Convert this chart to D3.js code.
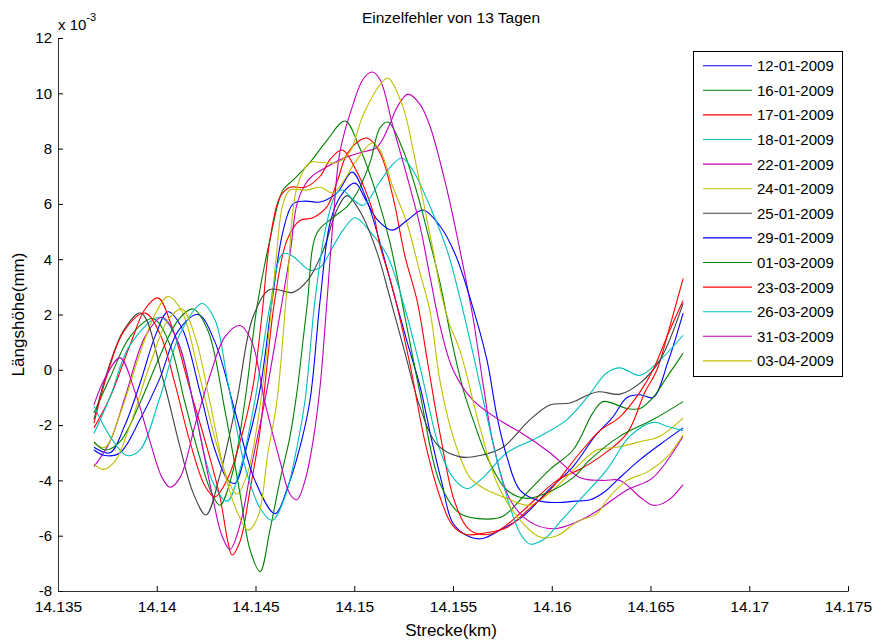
<!DOCTYPE html>
<html><head><meta charset="utf-8">
<script src="https://cdn.jsdelivr.net/npm/d3@7"></script>
<style>
body{margin:0;background:#fff;}
svg{display:block;font-family:"Liberation Sans",Arial,sans-serif;}
</style></head>
<body><svg id="c" width="873" height="642"></svg>
<script>
const title = "Einzelfehler von 13 Tagen";
const xLabel = "Strecke(km)";
const yLabel = "Längshöhe(mm)";
const xTicks = [14.135,14.14,14.145,14.15,14.155,14.16,14.165,14.17,14.175];
const yTicks = [-8,-6,-4,-2,0,2,4,6,8,10,12];
const dates = ["12-01-2009","16-01-2009","17-01-2009","18-01-2009","22-01-2009","24-01-2009","25-01-2009","29-01-2009","01-03-2009","23-03-2009","26-03-2009","31-03-2009","03-04-2009"];
const colors = ["#0000ff","#008000","#ff0000","#00bfbf","#bf00bf","#bfbf00","#404040","#0000ff","#008000","#ff0000","#00bfbf","#bf00bf","#bfbf00"];

// values in units of 1e-3 mm, positions in km
const s1201 = [[14.13682,-2.8],[14.13763,-3.0],[14.13839,-2.0],[14.13915,-0.5],[14.13991,1.2],[14.14057,2.1],[14.14128,1.5],[14.14219,-0.8],[14.14295,-2.9],[14.14361,-4.0],[14.14396,-4.1],[14.14462,-2.6],[14.14523,-0.7],[14.14584,2.5],[14.14639,5.0],[14.14690,6.0],[14.14751,6.1],[14.14827,6.07],[14.14913,6.4],[14.14989,7.15],[14.15060,6.2],[14.15130,4.6],[14.15206,2.6],[14.15272,0.9],[14.15333,-0.6],[14.15394,-2.6],[14.15444,-4.1],[14.15500,-5.55],[14.15586,-6.05],[14.15652,-6.1],[14.15738,-5.8],[14.15854,-5.3],[14.15991,-4.3],[14.16108,-3.5],[14.16219,-2.4],[14.16310,-1.7],[14.16381,-1.0],[14.16447,-0.9],[14.16513,-1.0],[14.16589,0.3],[14.16665,2.05]];
const s1601 = [[14.13682,-1.56],[14.13763,-0.3],[14.13865,1.2],[14.13981,1.85],[14.14067,0.9],[14.14143,-1.2],[14.14219,-3.2],[14.14280,-4.5],[14.14320,-4.9],[14.14381,-3.8],[14.14447,-1.1],[14.14508,2.3],[14.14573,4.7],[14.14639,6.5],[14.14690,6.86],[14.14776,7.5],[14.14862,8.3],[14.14953,9.0],[14.15029,8.0],[14.15115,6.3],[14.15181,4.6],[14.15257,1.9],[14.15333,-0.85],[14.15434,-4.1],[14.15535,-5.2],[14.15672,-5.4],[14.15753,-5.3],[14.15854,-4.6],[14.15991,-3.6],[14.16108,-2.9],[14.16209,-1.55],[14.16260,-1.15],[14.16381,-1.4],[14.16447,-1.4],[14.16513,-1.0],[14.16589,-0.2],[14.16665,0.6]];
const s1701 = [[14.13682,-2.1],[14.13763,-1.0],[14.13865,0.9],[14.13941,2.2],[14.14006,2.6],[14.14082,1.45],[14.14168,-0.7],[14.14254,-2.8],[14.14320,-4.6],[14.14361,-6.25],[14.14381,-6.7],[14.14422,-6.2],[14.14472,-4.35],[14.14523,-2.2],[14.14553,-0.2],[14.14599,2.6],[14.14660,4.7],[14.14725,5.4],[14.14791,5.5],[14.14862,5.9],[14.14913,6.8],[14.14963,7.8],[14.15029,8.3],[14.15065,8.38],[14.15130,7.85],[14.15196,6.25],[14.15257,4.1],[14.15318,2.5],[14.15373,0.2],[14.15434,-2.3],[14.15510,-4.8],[14.15586,-5.8],[14.15687,-5.95],[14.15773,-5.6],[14.15854,-5.1],[14.16027,-4.0],[14.16143,-3.6],[14.16244,-3.15],[14.16381,-2.3],[14.16472,-0.8],[14.16533,0.0],[14.16599,1.6],[14.16665,3.3]];
const s1801 = [[14.13682,-2.3],[14.13763,-1.0],[14.13865,0.9],[14.14016,1.9],[14.14108,1.0],[14.14194,-1.5],[14.14280,-4.0],[14.14356,-4.75],[14.14422,-3.6],[14.14497,-1.1],[14.14573,2.3],[14.14639,4.2],[14.14690,4.1],[14.14776,3.6],[14.14827,3.7],[14.14892,4.45],[14.14943,5.05],[14.15004,5.5],[14.15080,5.0],[14.15166,4.15],[14.15257,2.2],[14.15333,0.1],[14.15434,-2.9],[14.15500,-3.9],[14.15571,-4.3],[14.15652,-3.9],[14.15773,-3.0],[14.15941,-2.4],[14.16077,-1.8],[14.16179,-1.0],[14.16280,-0.1],[14.16346,0.07],[14.16447,-0.2],[14.16548,0.35],[14.16665,1.25]];
const s2201 = [[14.13682,-3.5],[14.13763,-2.6],[14.13839,-1.0],[14.13941,1.2],[14.14027,1.9],[14.14108,1.0],[14.14194,-1.5],[14.14280,-4.5],[14.14330,-6.0],[14.14371,-6.5],[14.14422,-5.6],[14.14482,-3.4],[14.14548,-1.1],[14.14614,1.6],[14.14675,4.2],[14.14710,6.0],[14.14751,6.7],[14.14786,7.0],[14.14852,7.3],[14.14928,7.6],[14.15029,7.85],[14.15115,8.05],[14.15181,8.9],[14.15217,9.5],[14.15272,9.97],[14.15333,9.6],[14.15384,8.8],[14.15470,6.5],[14.15535,4.33],[14.15601,1.9],[14.15652,-0.5],[14.15703,-2.65],[14.15789,-4.7],[14.15890,-5.5],[14.16006,-5.75],[14.16128,-5.5],[14.16209,-5.2],[14.16381,-4.35],[14.16513,-3.9],[14.16665,-2.4]];
const s2401 = [[14.13682,-2.65],[14.13738,-2.8],[14.13814,-1.6],[14.13915,0.6],[14.13991,2.0],[14.14057,2.65],[14.14128,2.1],[14.14209,0.0],[14.14295,-2.5],[14.14361,-4.0],[14.14406,-4.5],[14.14457,-3.8],[14.14513,-1.8],[14.14563,1.0],[14.14604,4.0],[14.14639,6.0],[14.14675,6.5],[14.14761,6.5],[14.14827,6.6],[14.14892,6.4],[14.14953,6.9],[14.15004,7.5],[14.15090,8.2],[14.15130,7.95],[14.15196,6.6],[14.15267,5.3],[14.15333,3.5],[14.15384,2.1],[14.15434,-0.4],[14.15500,-2.4],[14.15586,-3.9],[14.15672,-4.35],[14.15773,-4.65],[14.15890,-4.9],[14.16006,-4.35],[14.16128,-3.5],[14.16229,-2.9],[14.16330,-2.8],[14.16447,-2.6],[14.16548,-2.4],[14.16665,-1.75]];
const s2501 = [[14.13682,-1.8],[14.13748,-0.1],[14.13834,1.45],[14.13920,2.05],[14.14032,-0.35],[14.14118,-2.8],[14.14184,-4.45],[14.14249,-5.25],[14.14320,-3.8],[14.14406,-1.1],[14.14487,1.9],[14.14573,2.9],[14.14690,2.8],[14.14766,3.25],[14.14842,4.3],[14.14913,5.8],[14.14963,6.3],[14.15039,5.6],[14.15120,4.15],[14.15181,2.6],[14.15257,0.6],[14.15333,-1.35],[14.15419,-2.7],[14.15535,-3.15],[14.15637,-3.1],[14.15753,-2.8],[14.15890,-1.8],[14.15991,-1.27],[14.16092,-1.2],[14.16229,-0.8],[14.16346,-0.88],[14.16447,-0.48],[14.16548,0.35],[14.16665,2.4]];
const s2901 = [[14.13682,-2.9],[14.13738,-3.1],[14.13814,-3.0],[14.13915,-1.8],[14.14016,-0.3],[14.14108,1.4],[14.14209,2.0],[14.14295,1.0],[14.14396,-1.5],[14.14497,-4.0],[14.14599,-5.2],[14.14665,-4.2],[14.14725,-2.8],[14.14776,-1.1],[14.14827,2.5],[14.14877,5.3],[14.14928,6.25],[14.15004,6.75],[14.15054,6.2],[14.15120,5.4],[14.15191,5.05],[14.15267,5.4],[14.15348,5.78],[14.15434,5.2],[14.15510,4.2],[14.15586,2.6],[14.15672,0.35],[14.15723,-1.7],[14.15773,-3.15],[14.15839,-4.35],[14.15941,-4.75],[14.16027,-4.8],[14.16118,-4.75],[14.16194,-4.7],[14.16270,-4.4],[14.16330,-4.0],[14.16447,-3.25],[14.16548,-2.7],[14.16665,-2.1]];
const s0103 = [[14.13682,-2.6],[14.13738,-2.9],[14.13814,-2.6],[14.13915,-1.2],[14.14016,0.5],[14.14108,1.8],[14.14184,2.2],[14.14260,1.4],[14.14346,-1.5],[14.14422,-4.5],[14.14472,-6.5],[14.14523,-7.3],[14.14573,-5.8],[14.14624,-4.0],[14.14675,-2.4],[14.14710,-0.8],[14.14761,2.3],[14.14811,4.95],[14.14892,5.5],[14.14963,5.9],[14.15014,6.4],[14.15080,7.5],[14.15130,8.75],[14.15171,8.96],[14.15247,7.95],[14.15318,6.4],[14.15384,4.6],[14.15434,3.15],[14.15495,1.0],[14.15551,-0.7],[14.15611,-2.0],[14.15672,-3.15],[14.15773,-4.35],[14.15875,-4.65],[14.15991,-4.4],[14.16108,-3.9],[14.16194,-3.25],[14.16346,-2.4],[14.16513,-1.8],[14.16665,-1.15]];
const s2303 = [[14.13682,-1.93],[14.13748,-0.2],[14.13834,1.4],[14.13941,2.05],[14.14016,1.3],[14.14092,-0.5],[14.14168,-2.6],[14.14244,-4.2],[14.14295,-4.6],[14.14361,-3.9],[14.14422,-2.6],[14.14487,-0.6],[14.14533,2.0],[14.14573,4.7],[14.14624,6.25],[14.14675,6.6],[14.14751,6.6],[14.14827,7.0],[14.14877,7.6],[14.14938,7.95],[14.15014,7.15],[14.15095,5.7],[14.15130,4.5],[14.15196,2.9],[14.15282,0.2],[14.15358,-2.6],[14.15434,-4.6],[14.15495,-5.6],[14.15561,-5.95],[14.15662,-5.9],[14.15773,-5.7],[14.15890,-5.0],[14.15991,-4.35],[14.16143,-3.0],[14.16244,-2.2],[14.16346,-1.7],[14.16447,-0.8],[14.16513,0.0],[14.16589,1.3],[14.16665,2.5]];
const s2603 = [[14.13682,-1.3],[14.13763,-2.4],[14.13849,-3.1],[14.13915,-2.9],[14.14016,-1.0],[14.14118,1.3],[14.14229,2.4],[14.14295,1.8],[14.14361,-0.5],[14.14447,-3.5],[14.14523,-5.0],[14.14584,-5.45],[14.14649,-4.6],[14.14710,-2.8],[14.14751,-1.1],[14.14801,2.5],[14.14852,5.0],[14.14903,6.3],[14.14938,6.5],[14.14989,6.2],[14.15044,5.95],[14.15130,6.8],[14.15191,7.4],[14.15242,7.66],[14.15298,7.2],[14.15384,5.9],[14.15470,4.33],[14.15535,2.6],[14.15601,0.6],[14.15672,-1.7],[14.15753,-4.1],[14.15839,-5.9],[14.15890,-6.3],[14.15966,-6.1],[14.16042,-5.5],[14.16143,-4.7],[14.16280,-3.6],[14.16396,-2.4],[14.16513,-1.9],[14.16589,-2.05],[14.16665,-2.2]];
const s3103 = [[14.13682,-1.27],[14.13738,-0.3],[14.13814,0.43],[14.13890,-0.8],[14.13966,-2.6],[14.14027,-3.9],[14.14067,-4.25],[14.14118,-3.9],[14.14194,-2.0],[14.14270,-0.2],[14.14346,1.2],[14.14422,1.6],[14.14482,1.0],[14.14548,-1.2],[14.14624,-3.3],[14.14675,-4.5],[14.14710,-4.7],[14.14751,-4.0],[14.14791,-2.6],[14.14827,-0.6],[14.14862,2.5],[14.14892,5.3],[14.14928,7.9],[14.14994,9.6],[14.15044,10.5],[14.15090,10.77],[14.15130,10.5],[14.15196,8.8],[14.15267,7.0],[14.15333,5.2],[14.15384,3.35],[14.15434,1.6],[14.15500,0.0],[14.15601,-1.1],[14.15753,-1.9],[14.15839,-2.25],[14.15991,-3.0],[14.16143,-3.9],[14.16260,-4.0],[14.16346,-4.0],[14.16447,-4.6],[14.16513,-4.9],[14.16584,-4.75],[14.16665,-4.15]];
const s0304 = [[14.13682,-3.4],[14.13728,-3.6],[14.13789,-3.3],[14.13865,-2.0],[14.13966,0.2],[14.14057,1.8],[14.14128,2.2],[14.14194,1.2],[14.14270,-1.2],[14.14346,-3.8],[14.14411,-5.2],[14.14462,-5.8],[14.14513,-5.3],[14.14563,-3.0],[14.14609,-1.1],[14.14660,3.0],[14.14710,6.6],[14.14776,7.5],[14.14827,7.5],[14.14913,7.5],[14.14979,7.9],[14.15044,9.2],[14.15130,10.3],[14.15171,10.55],[14.15247,9.5],[14.15298,7.95],[14.15348,6.15],[14.15399,4.33],[14.15444,2.63],[14.15485,1.6],[14.15535,0.7],[14.15637,-2.1],[14.15723,-4.1],[14.15824,-5.3],[14.15941,-6.05],[14.16027,-6.0],[14.16128,-5.5],[14.16229,-5.2],[14.16280,-4.7],[14.16381,-4.0],[14.16482,-3.7],[14.16584,-3.15],[14.16665,-2.35]];

const seriesData = [s1201,s1601,s1701,s1801,s2201,s2401,s2501,s2901,s0103,s2303,s2603,s3103,s0304];

const svg = d3.select("#c");
const L = 58, R = 848, T = 38, B = 591;
const x = d3.scaleLinear().domain([14.135,14.175]).range([L,R]);
const y = d3.scaleLinear().domain([-8,12]).range([B,T]);
const fs = 15;

// lines
const line = d3.line().x(d=>x(d[0])).y(d=>y(d[1])).curve(d3.curveCatmullRom.alpha(0.5));
svg.append("g").selectAll("path").data(seriesData).join("path")
  .attr("d", line).attr("fill","none")
  .attr("stroke",(d,i)=>colors[i]).attr("stroke-width",1.1);

// axes
const xAxis = d3.axisBottom(x).tickValues(xTicks).tickSizeInner(-5).tickSizeOuter(0).tickPadding(10)
  .tickFormat(d=>String(+d.toFixed(3)));
const gx = svg.append("g").attr("transform",`translate(0,${B})`).call(xAxis);
const yAxis = d3.axisLeft(y).tickValues(yTicks).tickSizeInner(-5).tickSizeOuter(0).tickPadding(6)
  .tickFormat(d=>String(d));
const gy = svg.append("g").attr("transform",`translate(${L},0)`).call(yAxis);
[gx,gy].forEach(g=>{
  g.selectAll("text").attr("font-family","Liberation Sans, Arial, sans-serif").attr("fill","#000");
  g.selectAll("line").attr("stroke","#000");
  g.select(".domain").attr("stroke","#333");
});
gx.selectAll("text").attr("font-size",15.5);
gy.selectAll("text").attr("font-size",fs);

// exponent label
const ex = svg.append("text").attr("x",L).attr("y",T-8).attr("font-size",fs).attr("fill","#000");
ex.append("tspan").text("x 10");
ex.append("tspan").attr("font-size",11).attr("dy",-9).text("-3");

// title and labels
svg.append("text").attr("x",(L+R)/2 - 2).attr("y",23).attr("text-anchor","middle")
  .attr("font-size",15.5).attr("fill","#000").text(title);
svg.append("text").attr("x",(L+R)/2 - 2).attr("y",636).attr("text-anchor","middle")
  .attr("font-size",17).attr("fill","#000").text(xLabel);
svg.append("text").attr("transform",`translate(24,${(T+B)/2}) rotate(-90)`).attr("text-anchor","middle")
  .attr("font-size",17).attr("fill","#000").text(yLabel);

// legend
const lg = svg.append("g");
lg.append("rect").attr("x",693.5).attr("y",51.5).attr("width",149).attr("height",325)
  .attr("fill","#fff").attr("stroke","#000");
dates.forEach((d,i)=>{
  const yy = 65.7 + i*24.6;
  lg.append("line").attr("x1",703).attr("x2",752).attr("y1",yy).attr("y2",yy)
    .attr("stroke",colors[i]).attr("stroke-width",1.1);
  lg.append("text").attr("x",757).attr("y",yy).attr("dy","0.36em")
    .attr("font-size",fs).attr("fill","#000").text(d);
});
</script></body></html>
